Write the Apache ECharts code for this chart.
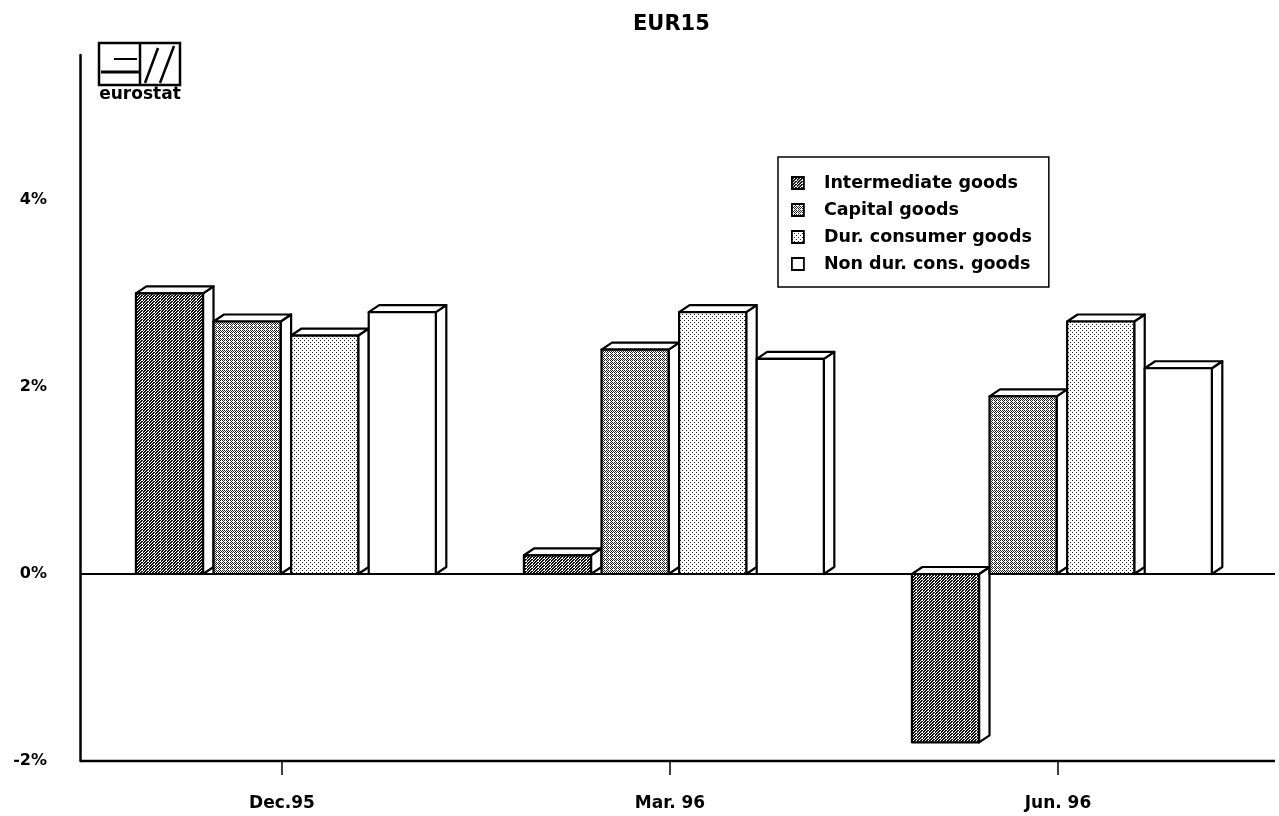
<!DOCTYPE html>
<html><head><meta charset="utf-8">
<script src="https://cdn.jsdelivr.net/npm/echarts@6/dist/echarts.min.js"></script>
<style>html,body{margin:0;padding:0;background:#fff}#c{width:1279px;height:816px}</style>
</head><body><div id="c"></div>
<script>
// ---- data ----
const categories = ['Dec.95', 'Mar. 96', 'Jun. 96'];
const seriesNames = ['Intermediate goods', 'Capital goods', 'Dur. consumer goods', 'Non dur. cons. goods'];
const intermediate = [3.0, 0.2, -1.8];
const capital = [2.7, 2.4, 1.9];
const durConsumer = [2.55, 2.8, 2.7];
const nonDurCons = [2.8, 2.3, 2.2];
const yTickValues = [-2, 0, 2, 4];
const titleText = 'EUR15';

// ---- dither patterns ----
function makePattern(size, fn, ink) {
  const c = document.createElement('canvas');
  c.width = size; c.height = size;
  const ctx = c.getContext('2d');
  ctx.fillStyle = '#fff'; ctx.fillRect(0, 0, size, size);
  ctx.fillStyle = ink;
  for (let y = 0; y < size; y++) for (let x = 0; x < size; x++) if (fn(x, y)) ctx.fillRect(x, y, 1, 1);
  return { image: c, repeat: 'repeat' };
}
const patterns = [
  makePattern(6, (x, y) => (x + y) % 3 !== 0 && !((x + y) % 3 === 1 && x % 2 === 0 && y % 3 === 0), '#111'),
  makePattern(4, (x, y) => (x + y) % 2 === 0 && !(x % 4 === 1 && y % 4 === 1), '#222'),
  makePattern(4, (x, y) => (x === 0 && y === 0) || (x === 2 && y === 2) || (x === 0 && y === 2 && false), '#222'),
  '#ffffff'
];
const seriesValues = [intermediate, capital, durConsumer, nonDurCons];

function makeRender(si) {
  return function (params, api) {
    const cat = api.value(0), val = api.value(1);
    const base = api.coord([cat, 0]);
    const topP = api.coord([cat, val]);
    const band = api.size([1, 0])[0];
    const pitch = band * 0.2, fw = band * 0.173, dx = band * 0.027, dy = 7;
    const cx = base[0] + (si - 1.5) * pitch + band * 0.01;
    const xl = cx - fw / 2, xr = cx + fw / 2;
    const yT = Math.min(base[1], topP[1]), yB = Math.max(base[1], topP[1]);
    const st = { fill: '#fff', stroke: '#000', lineWidth: 2.2, lineJoin: 'round' };
    return {
      type: 'group',
      children: [
        { type: 'polygon', shape: { points: [[xr, yT], [xr + dx, yT - dy], [xr + dx, yB - dy], [xr, yB]] }, style: st },
        { type: 'polygon', shape: { points: [[xl, yT], [xl + dx, yT - dy], [xr + dx, yT - dy], [xr, yT]] }, style: st },
        { type: 'rect', shape: { x: xl, y: yT, width: fw, height: yB - yT }, style: { fill: patterns[si], stroke: '#000', lineWidth: 2.2, lineJoin: 'round' } }
      ]
    };
  };
}

const font = 'DejaVu Sans';
const chart = echarts.init(document.getElementById('c'), null, { renderer: 'canvas' });
const option = {
  backgroundColor: '#fff',
  animation: false,
  title: {
    text: titleText, left: 633, top: 14, padding: 0,
    textStyle: { fontFamily: font, fontWeight: 'bold', fontSize: 21, color: '#000' }
  },
  legend: {
    orient: 'vertical', left: 778, top: 157, padding: [16, 17, 13, 13],
    itemWidth: 12, itemHeight: 12, itemGap: 7, icon: 'rect',
    borderColor: '#000', borderWidth: 1.5, selectedMode: false,
    itemStyle: { borderColor: '#000', borderWidth: 1.8 },
    textStyle: { fontFamily: font, fontWeight: 'bold', fontSize: 17.5, color: '#000', lineHeight: 20, padding: [0, 0, 0, 15] },
    data: seriesNames
  },
  grid: { left: 88, right: 27, top: 55, bottom: 55, containLabel: false },
  xAxis: {
    type: 'category', data: categories,
    axisLine: { show: false, onZero: false },
    axisTick: { show: true, alignWithLabel: true, length: 14, lineStyle: { color: '#000', width: 1.5 } },
    axisLabel: { margin: 34, fontFamily: font, fontWeight: 'bold', fontSize: 17, color: '#000' }
  },
  yAxis: {
    type: 'value', min: -2, max: 5.55, interval: 2, offset: 8,
    axisLine: { show: true, lineStyle: { color: '#000', width: 2.5 } },
    axisTick: { show: false },
    splitLine: { show: false },
    axisLabel: {
      margin: 33, fontFamily: font, fontWeight: 'bold', fontSize: 16, color: '#000',
      showMaxLabel: false,
      formatter: v => (yTickValues.indexOf(Math.round(v * 1000) / 1000) >= 0 ? v + '%' : '')
    }
  },
  series: seriesNames.map((name, si) => ({
    type: 'custom', name: name, z: 3,
    itemStyle: { color: patterns[si], borderColor: '#000', borderWidth: 1.5 },
    renderItem: makeRender(si),
    encode: { x: 0, y: 1 },
    data: categories.map((c, i) => [i, seriesValues[si][i]])
  }))
};
chart.setOption(option);

const y0 = chart.convertToPixel({ yAxisIndex: 0 }, 0);
const yb = chart.convertToPixel({ yAxisIndex: 0 }, -2);
const yAxisX = chart.convertToPixel({ xAxisIndex: 0 }, 0) - 194 - 8;
chart.setOption({
  graphic: [
    { type: 'line', z: 1, shape: { x1: yAxisX, y1: y0, x2: 1275, y2: y0 }, style: { stroke: '#000', lineWidth: 2 } },
    { type: 'line', z: 10, shape: { x1: yAxisX, y1: yb, x2: 1275, y2: yb }, style: { stroke: '#000', lineWidth: 2.5 } },
    // eurostat logo
    { type: 'rect', z: 10, shape: { x: 99, y: 43, width: 81, height: 42 }, style: { fill: 'none', stroke: '#000', lineWidth: 2.5 } },
    { type: 'line', z: 10, shape: { x1: 114, y1: 59, x2: 137, y2: 59 }, style: { stroke: '#000', lineWidth: 2 } },
    { type: 'line', z: 10, shape: { x1: 101, y1: 72, x2: 140, y2: 72 }, style: { stroke: '#000', lineWidth: 3 } },
    { type: 'line', z: 10, shape: { x1: 140, y1: 43, x2: 140, y2: 85 }, style: { stroke: '#000', lineWidth: 2.5 } },
    { type: 'line', z: 10, shape: { x1: 145, y1: 83, x2: 158, y2: 48 }, style: { stroke: '#000', lineWidth: 2.5 } },
    { type: 'line', z: 10, shape: { x1: 160, y1: 83, x2: 174, y2: 46 }, style: { stroke: '#000', lineWidth: 2.5 } },
    { type: 'text', z: 10, style: { text: 'eurostat', x: 140, y: 95, align: 'center', verticalAlign: 'middle', font: 'bold 17px "DejaVu Sans"', fill: '#000' } }
  ]
});
</script>
</body></html>
